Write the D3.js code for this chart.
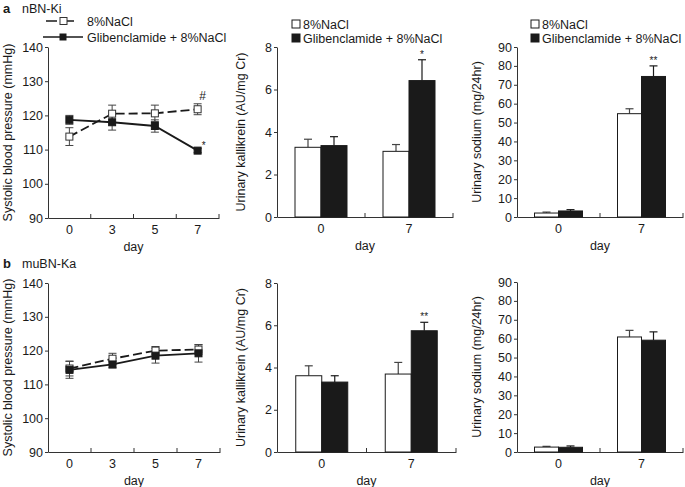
<!DOCTYPE html>
<html><head><meta charset="utf-8">
<script src="https://cdn.jsdelivr.net/npm/d3@7"></script>
<style>body{margin:0;background:#fff} svg{display:block;font-family:"Liberation Sans",Arial,Helvetica,sans-serif}</style>
</head><body><svg id="c" width="685" height="487"></svg>
<script>
// ---------- data ----------
const dayLabels = ["0", "3", "5", "7"];
const barDays = ["0", "7"];
const bpTicks = [90, 100, 110, 120, 130, 140];
const kalTicks = [0, 2, 4, 6, 8];
const naTicks = [0, 10, 20, 30, 40, 50, 60, 70, 80, 90];
const seriesNames = ["8%NaCl", "Glibenclamide + 8%NaCl"];

// panel a (nBN-Ki)
const aBpNaCl = [113.8, 120.5, 120.6, 121.8];
const aBpNaClErr = [2.6, 2.5, 2.4, 1.6];
const aBpGlib = [118.7, 118.0, 116.9, 109.7];
const aBpGlibErr = [1.3, 2.3, 1.8, 0.6];
const aKalNaCl = [3.28, 3.09];
const aKalNaClErr = [0.38, 0.32];
const aKalGlib = [3.36, 6.42];
const aKalGlibErr = [0.42, 0.98];
const aNaNaCl = [2.1, 54.7];
const aNaNaClErr = [0.5, 2.6];
const aNaGlib = [3.2, 74.4];
const aNaGlibErr = [0.7, 5.6];

// panel b (muBN-Ka)
const bBpNaCl = [114.7, 117.6, 120.0, 120.3];
const bBpNaClErr = [2.2, 1.6, 1.2, 1.4];
const bBpGlib = [114.3, 115.9, 118.5, 119.2];
const bBpGlibErr = [2.5, 1.0, 2.2, 2.6];
const bKalNaCl = [3.61, 3.69];
const bKalNaClErr = [0.47, 0.55];
const bKalGlib = [3.31, 5.74];
const bKalGlibErr = [0.30, 0.40];
const bNaNaCl = [2.6, 60.9];
const bNaNaClErr = [0.4, 3.5];
const bNaGlib = [2.5, 59.2];
const bNaGlibErr = [0.7, 4.4];

// ---------- drawing ----------
const svg = d3.select("#c");
const FS = 12.5;
const INK = "#1a1a1a";

function yAxis(g, y, ticks, x0) {
  const ax = g.append("g").attr("transform", `translate(${x0},0)`)
    .call(d3.axisLeft(y).tickValues(ticks).tickSize(3).tickSizeOuter(0).tickPadding(2));
  ax.selectAll("text").attr("font-size", FS).attr("fill", INK).attr("font-family", null);
  ax.selectAll("line,path").attr("stroke", "#333");
  return ax;
}
function xAxis(g, x, yb) {
  const ax = g.append("g").attr("transform", `translate(0,${yb})`)
    .call(d3.axisBottom(x).tickSize(0).tickSizeOuter(0).tickPadding(7));
  ax.selectAll("text").attr("font-size", FS).attr("fill", INK).attr("font-family", null);
  ax.select(".domain").attr("stroke", "#333");
  // boundary ticks pointing up
  x.domain().forEach(d => {
    const bx = x(d) + x.bandwidth();
    g.append("line").attr("x1", bx).attr("x2", bx).attr("y1", yb).attr("y2", yb - 4)
      .attr("stroke", "#333");
  });
}
function titles(g, xt, ym, ytext, xc, yday) {
  g.append("text").attr("transform", `translate(${xt},${ym}) rotate(-90)`)
    .attr("text-anchor", "middle").attr("font-size", FS).attr("fill", INK).text(ytext);
  g.append("text").attr("x", xc).attr("y", yday).attr("text-anchor", "middle")
    .attr("font-size", FS).attr("fill", INK).text("day");
}

function linePanel(box, nacl, naclErr, glib, glibErr, notes) {
  const g = svg.append("g");
  const x = d3.scaleBand().domain(dayLabels).range([box.x0, box.x1]);
  const y = d3.scaleLinear().domain([90, 140]).range([box.yb, box.yt]);
  yAxis(g, y, bpTicks, box.x0);
  xAxis(g, x, box.yb);
  titles(g, box.x0 - 36, (box.yt + box.yb) / 2, "Systolic blood pressure (mmHg)",
    (box.x0 + box.x1) / 2, box.yb + 33);
  const cx = d => x(d) + x.bandwidth() / 2;
  const line = d3.line().x((v, i) => cx(dayLabels[i])).y(v => y(v));
  const series = [
    {v: nacl, e: naclErr, dash: "9,4", fill: "#fff", stroke: "#333"},
    {v: glib, e: glibErr, dash: null, fill: INK, stroke: INK}
  ];
  series.forEach(s => {
    s.v.forEach((v, i) => {
      const xx = cx(dayLabels[i]);
      g.append("line").attr("x1", xx).attr("x2", xx).attr("y1", y(v - s.e[i])).attr("y2", y(v + s.e[i]))
        .attr("stroke", "#444").attr("stroke-width", 1);
      [v - s.e[i], v + s.e[i]].forEach(w => g.append("line").attr("x1", xx - 4).attr("x2", xx + 4)
        .attr("y1", y(w)).attr("y2", y(w)).attr("stroke", "#444").attr("stroke-width", 1));
    });
  });
  series.forEach(s => {
    g.append("path").datum(s.v).attr("d", line).attr("fill", "none").attr("stroke", INK)
      .attr("stroke-width", 1.8).attr("stroke-dasharray", s.dash);
  });
  series.forEach(s => {
    g.selectAll(null).data(s.v).join("rect")
      .attr("x", (v, i) => cx(dayLabels[i]) - 3.5).attr("y", v => y(v) - 3.5)
      .attr("width", 7).attr("height", 7)
      .attr("fill", s.fill).attr("stroke", s.stroke).attr("stroke-width", 1);
  });
  if (notes) {
    const i = dayLabels.indexOf(notes.day);
    g.append("text").attr("x", cx(notes.day) + 5).attr("y", y(nacl[i] + naclErr[i]) - 4)
      .attr("text-anchor", "middle").attr("font-size", 12).attr("fill", INK).text(notes.hash);
    g.append("text").attr("x", cx(notes.day) + 6).attr("y", y(glib[i]) - 2)
      .attr("text-anchor", "middle").attr("font-size", 10).attr("fill", INK).text(notes.star);
  }
  return g;
}

function barPanel(box, ticks, dom, ytext, a, ae, b, be, note) {
  const g = svg.append("g");
  const x = d3.scaleBand().domain(barDays).range([box.x0, box.x1]);
  const y = d3.scaleLinear().domain(dom).range([box.yb, box.yt]);
  const sub = d3.scaleBand().domain(seriesNames).range([0, box.bw * 2]);
  yAxis(g, y, ticks, box.x0);
  xAxis(g, x, box.yb);
  titles(g, box.tx, (box.yt + box.yb) / 2, ytext, (box.x0 + box.x1) / 2, box.yb + 33);
  const sets = [{v: a, e: ae, fill: "#fff", ek: "#444"}, {v: b, e: be, fill: INK, ek: INK}];
  sets.forEach((s, k) => {
    s.v.forEach((v, i) => {
      const left = x(barDays[i]) + x.bandwidth() / 2 - box.bw + sub(seriesNames[k]);
      const xm = left + box.bw / 2;
      g.append("line").attr("x1", xm).attr("x2", xm).attr("y1", y(v)).attr("y2", y(v + s.e[i]))
        .attr("stroke", s.ek).attr("stroke-width", 1.2);
      g.append("line").attr("x1", xm - 4).attr("x2", xm + 4).attr("y1", y(v + s.e[i])).attr("y2", y(v + s.e[i]))
        .attr("stroke", s.ek).attr("stroke-width", 1.2);
      g.append("rect").attr("x", left).attr("y", y(v)).attr("width", sub.bandwidth())
        .attr("height", y(dom[0]) - y(v)).attr("fill", s.fill).attr("stroke", INK).attr("stroke-width", 1);
    });
  });
  if (note) {
    const xm = x(barDays[1]) + x.bandwidth() / 2 + box.bw / 2;
    g.append("text").attr("x", xm).attr("y", y(b[1] + be[1]) - 2).attr("text-anchor", "middle")
      .attr("font-size", 10).attr("fill", INK).text(note);
  }
  return g;
}

function barLegend(x, y) {
  const g = svg.append("g");
  seriesNames.forEach((n, i) => {
    g.append("rect").attr("x", x).attr("y", y + i * 14 - 4).attr("width", 8).attr("height", 8)
      .attr("fill", i ? INK : "#fff").attr("stroke", INK).attr("stroke-width", 1);
    g.append("text").attr("x", x + 11).attr("y", y + i * 14 + 4.5).attr("font-size", FS)
      .attr("fill", INK).text(n);
  });
}

function lineLegend() {
  const g = svg.append("g");
  g.append("line").attr("x1", 46).attr("x2", 80).attr("y1", 21).attr("y2", 21)
    .attr("stroke", INK).attr("stroke-width", 1.6).attr("stroke-dasharray", "11,6");
  g.append("rect").attr("x", 60).attr("y", 17.5).attr("width", 7).attr("height", 7)
    .attr("fill", "#fff").attr("stroke", "#333");
  g.append("text").attr("x", 87).attr("y", 25.5).attr("font-size", FS).attr("fill", INK).text(seriesNames[0]);
  g.append("line").attr("x1", 43).attr("x2", 83).attr("y1", 37).attr("y2", 37)
    .attr("stroke", INK).attr("stroke-width", 1.6);
  g.append("rect").attr("x", 59.5).attr("y", 33.5).attr("width", 7).attr("height", 7).attr("fill", INK);
  g.append("text").attr("x", 87).attr("y", 41.5).attr("font-size", FS).attr("fill", INK).text(seriesNames[1]);
}

function panelLabel(letter, name, y) {
  svg.append("text").attr("x", 3).attr("y", y).attr("font-size", 13).attr("font-weight", "bold")
    .attr("fill", INK).text(letter);
  svg.append("text").attr("x", 22).attr("y", y).attr("font-size", FS).attr("fill", INK).text(name);
}

panelLabel("a", "nBN-Ki", 13);
panelLabel("b", "muBN-Ka", 268);
lineLegend();

linePanel({x0: 48, x1: 219, yt: 47, yb: 218}, aBpNaCl, aBpNaClErr, aBpGlib, aBpGlibErr,
  {day: "7", hash: "#", star: "*"});
linePanel({x0: 48, x1: 220, yt: 283, yb: 452}, bBpNaCl, bBpNaClErr, bBpGlib, bBpGlibErr, null);

barPanel({x0: 277, x1: 453, yt: 47, yb: 217, bw: 26, tx: 245}, kalTicks, [0, 8],
  "Urinary kallikrein (AU/mg Cr)", aKalNaCl, aKalNaClErr, aKalGlib, aKalGlibErr, "*");
barPanel({x0: 517, x1: 683, yt: 47, yb: 217, bw: 24, tx: 481}, naTicks, [0, 90],
  "Urinary sodium (mg/24hr)", aNaNaCl, aNaNaClErr, aNaGlib, aNaGlibErr, "**");
barPanel({x0: 277, x1: 456, yt: 283, yb: 452, bw: 26, tx: 245}, kalTicks, [0, 8],
  "Urinary kallikrein (AU/mg Cr)", bKalNaCl, bKalNaClErr, bKalGlib, bKalGlibErr, "**");
barPanel({x0: 517, x1: 683, yt: 282, yb: 452, bw: 24, tx: 481}, naTicks, [0, 90],
  "Urinary sodium (mg/24hr)", bNaNaCl, bNaNaClErr, bNaGlib, bNaGlibErr, null);

barLegend(292, 24);
barLegend(531, 24);
</script></body></html>
